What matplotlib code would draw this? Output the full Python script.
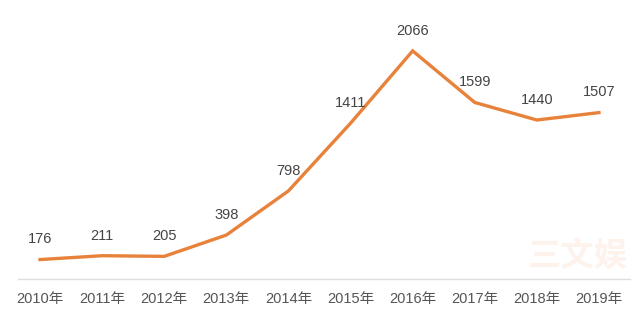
import matplotlib.pyplot as plt

plt.rcParams['font.family'] = ['Liberation Sans', 'Noto Sans CJK SC', 'DejaVu Sans']

years = ['2010年', '2011年', '2012年', '2013年', '2014年',
         '2015年', '2016年', '2017年', '2018年', '2019年']
counts = [176, 211, 205, 398, 798, 1411, 2066, 1599, 1440, 1507]

fig = plt.figure(figsize=(6.4, 3.22), dpi=100)
ax = fig.add_axes([18 / 640, 1 - 279 / 322, 612 / 640, 279 / 322])

x = list(range(len(years)))
ax.plot(x, counts, color='#e8823a', lw=2.4, solid_joinstyle='miter', zorder=3)

for xi, v in zip(x, counts):
    ax.annotate(str(v), (xi, v), xytext=(0, 9.5), textcoords='offset points',
                ha='center', va='bottom', fontsize=10.5, color='#444444')

# faint watermark in the lower right
ax.text(0.915, 0.08, '三文娱', transform=ax.transAxes, fontsize=24,
        color='#fdf3ec', ha='center', va='center', zorder=1,
        family=['Noto Sans CJK SC'], fontweight='bold')

ax.set_xlim(-0.355, 9.5)
ax.set_ylim(0, 2527)
ax.set_xticks(x)
ax.set_xticklabels(years, fontsize=10.5, color='#555555')
ax.tick_params(axis='x', length=0, pad=9)
ax.set_yticks([])
for side in ['top', 'right', 'left']:
    ax.spines[side].set_visible(False)
ax.spines['bottom'].set_color('#dddddd')
ax.spines['bottom'].set_linewidth(1)

fig.savefig('out.png', dpi=100)
